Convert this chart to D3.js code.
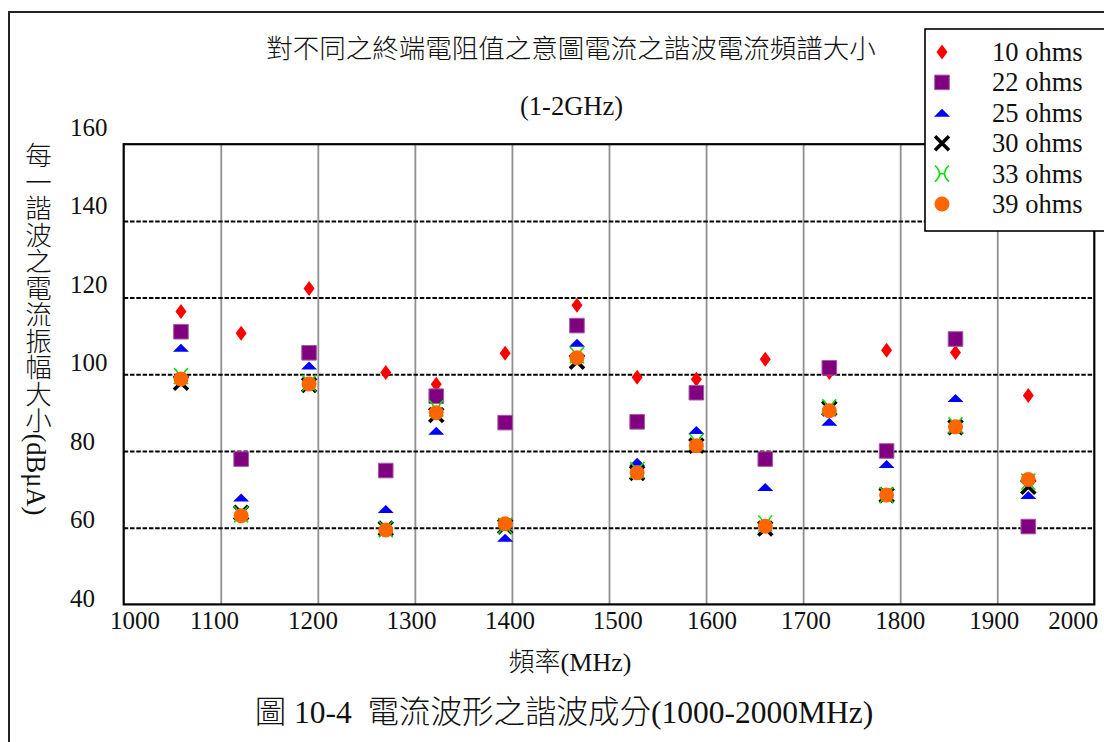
<!DOCTYPE html>
<html>
<head>
<meta charset="utf-8">
<script src="https://cdn.jsdelivr.net/npm/d3@7"></script>
<style>
  html, body { margin: 0; padding: 0; background: #fff; }
  svg { display: block; }
  text { font-family: "Liberation Serif", "Noto Sans CJK TC", serif; fill: #111; }
  .cjk { font-weight: 300; }
</style>
</head>
<body>
<svg id="chart" width="1104" height="742"></svg>
<script>
// ---------------- data ----------------
const frequencies = [1059, 1121, 1191, 1270, 1322, 1393, 1467, 1529, 1590, 1661, 1727, 1786, 1857, 1932];
const ohms10 = [116.4, 110.7, 122.4, 100.5, 97.4, 105.5, 118.0, 99.2, 98.7, 103.9, 100.5, 106.3, 105.7, 94.5];
const ohms22 = [111.1, 77.9, 105.6, 74.9, 94.3, 87.4, 112.7, 87.6, 95.2, 77.9, 101.7, 80.0, 109.2, 60.3];
const ohms25 = [106.9, 67.9, 102.3, 64.9, 85.3, 57.4, 108.2, 77.2, 85.5, 70.6, 87.6, 76.6, 93.8, 68.5];
const ohms30 = [97.8, 63.9, 97.2, 59.8, 89.4, 60.3, 103.3, 74.3, 81.4, 59.8, 91.1, 68.5, 86.2, 70.7];
const ohms33 = [99.5, 63.5, 97.7, 59.6, 91.1, 60.5, 105.0, 75.0, 82.4, 61.1, 91.4, 68.5, 86.7, 72.0];
const ohms39 = [98.8, 63.1, 97.5, 59.4, 90.0, 61.0, 104.3, 74.3, 81.4, 60.4, 90.5, 68.5, 86.3, 72.6];
const seriesNames = ["10 ohms", "22 ohms", "25 ohms", "30 ohms", "33 ohms", "39 ohms"];
const xTicks = [1000, 1100, 1200, 1300, 1400, 1500, 1600, 1700, 1800, 1900, 2000];
const yTicks = [40, 60, 80, 100, 120, 140, 160];
const titleText = "對不同之終端電阻值之意圖電流之諧波電流頻譜大小";
const subtitleText = "(1-2GHz)";
const xTitleText = "頻率(MHz)";
const yTitleText = "每一諧波之電流振幅大小(dBμA)";
const captionText = "圖 10-4  電流波形之諧波成分(1000-2000MHz)";

// ---------------- layout ----------------
const svg = d3.select("#chart");
const L = 123.7, R = 1094.3, T = 144.2, B = 604.4;
const x = d3.scaleLinear().domain([1000, 2000]).range([L, R]);
const y = d3.scaleLinear().domain([40, 160]).range([B, T]);
// tick-label placement scales (labels in the source are not exactly on the grid)
const xLab = d3.scaleLinear().domain([1000, 1100, 1400, 1500, 1900, 2000])
  .range([134.6, 214, 509.5, 617.3, 993.8, 1072.8]);
const yLab = d3.scaleLinear().domain([40, 160]).range([598.3, 127.2]);

// outer frame
svg.append("rect").attr("x", 9).attr("y", 12).attr("width", 1200).attr("height", 800)
  .attr("fill", "none").attr("stroke", "#222").attr("stroke-width", 2);

// horizontal dashed grid
const gy = svg.append("g").attr("transform", `translate(${L},0)`)
  .call(d3.axisLeft(y).tickValues(yTicks.filter(v => v > 40 && v < 160))
    .tickSize(-(R - L)).tickFormat(""));
gy.select(".domain").remove();
gy.selectAll("line").attr("stroke", "#000").attr("stroke-width", 2).attr("stroke-dasharray", "4.5,1.8");

// vertical dotted grid
const gx = svg.append("g").attr("transform", `translate(0,${B})`)
  .call(d3.axisBottom(x).tickValues(xTicks.filter(v => v > 1000 && v < 2000))
    .tickSize(-(B - T)).tickFormat(""));
gx.select(".domain").remove();
gx.selectAll("line").attr("stroke", "#222").attr("stroke-width", 1.8).attr("stroke-dasharray", "1,1");

// plot frame
svg.append("rect").attr("x", L).attr("y", T).attr("width", R - L).attr("height", B - T)
  .attr("fill", "none").attr("stroke", "#000").attr("stroke-width", 2.2);

// tick labels
const yl = svg.append("g").attr("transform", "translate(70,0)")
  .call(d3.axisRight(yLab).tickValues(yTicks).tickSize(0).tickPadding(0));
yl.select(".domain").remove();
yl.selectAll("text").style("font-size", "25px").attr("fill", "#111");

const xl = svg.append("g").attr("transform", "translate(0,611.5)")
  .call(d3.axisBottom(xLab).tickValues(xTicks).tickSize(0).tickPadding(0).tickFormat(d3.format("d")));
xl.select(".domain").remove();
xl.selectAll("text").style("font-size", "25px").attr("fill", "#111");

// ---------------- markers ----------------
const symDiamond = { draw(c) { c.moveTo(0, -7.5); c.lineTo(5.5, 0); c.lineTo(0, 7.5); c.lineTo(-5.5, 0); c.closePath(); } };
const symSquare = { draw(c) { c.rect(-7.3, -7.3, 14.6, 14.6); } };
const symTriangle = { draw(c) { c.moveTo(0, -4); c.lineTo(8, 4); c.lineTo(-8, 4); c.closePath(); } };
const symCross = { draw(c) { c.moveTo(-7, -7); c.lineTo(7, 7); c.moveTo(7, -7); c.lineTo(-7, 7); } };
const symPisces = { draw(c) {
  c.moveTo(-7, -8); c.quadraticCurveTo(2, 0, -7, 8);
  c.moveTo(7, -8); c.quadraticCurveTo(-2, 0, 7, 8);
  c.moveTo(-2.6, 0); c.lineTo(2.6, 0);
} };
const symCircle = d3.symbolCircle;

const styles = [
  { type: symDiamond, fill: "#ff0000", stroke: "none", sw: 0 },
  { type: symSquare, fill: "#800080", stroke: "#a25aa2", sw: 1 },
  { type: symTriangle, fill: "#0000ff", stroke: "none", sw: 0 },
  { type: symCross, fill: "none", stroke: "#000", sw: 3.6 },
  { type: symPisces, fill: "none", stroke: "#00e000", sw: 1.6 },
  { type: symCircle, fill: "#ff6600", stroke: "none", sw: 0, size: Math.PI * 7.5 * 7.5 }
];
const seriesValues = [ohms10, ohms22, ohms25, ohms30, ohms33, ohms39];

function markerPath(s) {
  return d3.symbol().type(s.type).size(s.size || 64)();
}

seriesValues.forEach((vals, i) => {
  const s = styles[i];
  svg.append("g").selectAll("path")
    .data(frequencies.map((f, j) => ({ f, v: vals[j] })))
    .join("path")
    .attr("transform", d => `translate(${x(d.f)},${y(d.v)})`)
    .attr("d", markerPath(s))
    .attr("fill", s.fill)
    .attr("stroke", s.stroke)
    .attr("stroke-width", s.sw);
});

// ---------------- legend ----------------
const lg = svg.append("g");
lg.append("rect").attr("x", 925).attr("y", 29).attr("width", 200).attr("height", 202)
  .attr("fill", "#fff").attr("stroke", "#000").attr("stroke-width", 1.6);
const rowY = d3.scaleLinear().domain([0, 5]).range([52, 204]);
seriesNames.forEach((name, i) => {
  const s = styles[i];
  lg.append("path").attr("transform", `translate(942,${rowY(i)})`)
    .attr("d", markerPath(s)).attr("fill", s.fill).attr("stroke", s.stroke).attr("stroke-width", s.sw);
  lg.append("text").attr("x", 992).attr("y", rowY(i) + 9)
    .style("font-size", "26.5px").text(name);
});

// ---------------- titles ----------------
svg.append("text").attr("class", "cjk").attr("x", 571).attr("y", 58).attr("text-anchor", "middle")
  .style("font-size", "26.5px").text(titleText);
svg.append("text").attr("x", 571.5).attr("y", 115).attr("text-anchor", "middle")
  .style("font-size", "26.5px").text(subtitleText);
svg.append("text").attr("class", "cjk").attr("x", 570).attr("y", 671).attr("text-anchor", "middle")
  .style("font-size", "26px").text(xTitleText);
svg.append("text").attr("class", "cjk").attr("x", 564).attr("y", 723).attr("text-anchor", "middle")
  .style("font-size", "31.5px").style("white-space", "pre").text(captionText);
svg.append("text").attr("class", "cjk").attr("x", 36).attr("y", 142)
  .style("writing-mode", "vertical-rl")
  .style("font-size", "26.5px").text(yTitleText);
</script>
</body>
</html>
